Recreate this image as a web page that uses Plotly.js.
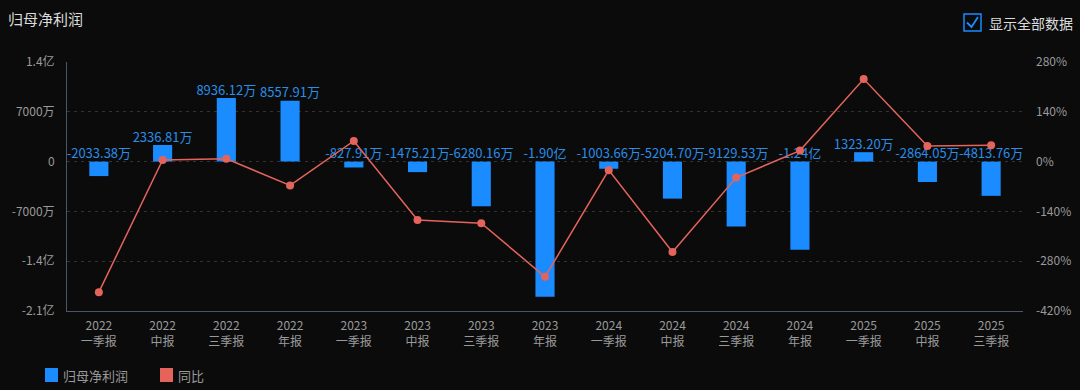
<!DOCTYPE html>
<html>
<head>
<meta charset="utf-8">
<script src="https://cdn.plot.ly/plotly-3.0.1.min.js"></script>
<style>
html,body{margin:0;padding:0;background:#0b0b0c;}
#chart{width:1080px;height:390px;}
</style>
</head>
<body>
<div id="chart"></div>
<script>
// Categories (period labels)
const years = ['2022','2022','2022','2022','2023','2023','2023','2023','2024','2024','2024','2024','2025','2025','2025'];
const periods = ['一季报','中报','三季报','年报','一季报','中报','三季报','年报','一季报','中报','三季报','年报','一季报','中报','三季报'];
// 归母净利润, in 万元
const profit = [-2033.38, 2336.81, 8936.12, 8557.91, -827.91, -1475.21, -6280.16, -19000, -1003.66, -5204.70, -9129.53, -12400, 1323.20, -2864.05, -4813.76];
// 同比, in %
const yoy = [-367, 4.5, 8, -67, 58, -164, -173, -324, -24, -254, -45, 31, 232, 44, 46];
// Axis ticks
const leftTickVals = [14000, 7000, 0, -7000, -14000, -21000];
const leftTickText = ['1.4亿', '7000万', '0', '-7000万', '-1.4亿', '-2.1亿'];
const rightTickVals = [280, 140, 0, -140, -280, -420];
const rightTickText = ['280%', '140%', '0%', '-140%', '-280%', '-420%'];

const cats = years.map((y, i) => y + '<br>' + periods[i]);
function fmt(v) {
  if (Math.abs(v) >= 10000) return (v / 10000).toFixed(2) + '亿';
  return v.toFixed(2) + '万';
}

const FONT = '"Noto Sans CJK SC", "Noto Sans", sans-serif';
const barColor = '#1a8cff';
const labelColor = '#2a8de6';
const lineColor = '#e4645c';

const traces = [
  {
    type: 'bar', x: cats, y: profit, marker: {color: barColor},
    yaxis: 'y', hoverinfo: 'skip', showlegend: false
  },
  {
    type: 'scatter', mode: 'text', x: cats, y: profit.map(v => Math.max(v, 0)),
    text: profit.map(fmt), textposition: 'top center',
    textfont: {color: labelColor, size: 13, family: FONT},
    yaxis: 'y', hoverinfo: 'skip', showlegend: false, cliponaxis: false
  },
  {
    type: 'scatter', mode: 'lines+markers', x: cats, y: yoy, yaxis: 'y2',
    line: {color: lineColor, width: 1.5},
    marker: {color: lineColor, size: 8},
    hoverinfo: 'skip', showlegend: false, cliponaxis: false
  }
];

const L = 67, R = 1023, T = 62, B = 311;
const W = R - L, H = B - T;
const px = x => (x - L) / W;
const py = y => (B - y) / H;

const layout = {
  width: 1080, height: 390,
  margin: {l: L, r: 1080 - R, t: T, b: 390 - B},
  paper_bgcolor: '#0b0b0c', plot_bgcolor: '#0b0b0c',
  font: {family: FONT, color: '#9a9a9a', size: 12},
  bargap: 0.7,
  showlegend: false,
  title: {text: '归母净利润', x: 8 / 1080, xanchor: 'left', y: 1 - 20 / 390, yanchor: 'middle',
          font: {size: 15, color: '#dcdcdc', family: FONT}},
  xaxis: {
    type: 'category', range: [-0.5, cats.length - 0.5], autorange: false,
    showgrid: false, zeroline: false,
    showline: true, linecolor: '#4a5568', linewidth: 1,
    ticks: '', ticklabelstandoff: 4, tickfont: {size: 12, color: '#9a9a9a'}, fixedrange: true
  },
  yaxis: {
    range: [-21000, 14000], tickvals: leftTickVals, ticktext: leftTickText,
    showgrid: true, gridcolor: '#333333', griddash: '3px,4px', gridwidth: 1,
    zeroline: false, showline: true, linecolor: '#4a5568', linewidth: 1,
    ticks: '', ticklabelstandoff: 9, tickfont: {size: 12, color: '#9a9a9a'}, fixedrange: true
  },
  yaxis2: {
    overlaying: 'y', side: 'right', range: [-420, 280], tickvals: rightTickVals, ticktext: rightTickText,
    showgrid: false, zeroline: false, showline: false,
    ticks: '', ticklabelstandoff: 12, tickfont: {size: 12, color: '#9a9a9a'}, fixedrange: true
  },
  shapes: [
    // checkbox
    {type: 'rect', xref: 'paper', yref: 'paper', x0: px(964), x1: px(981), y0: py(31), y1: py(14),
     line: {color: '#1a8cff', width: 1.5}, fillcolor: 'rgba(0,0,0,0)'},
    {type: 'path', xref: 'paper', yref: 'paper',
     path: `M ${px(967)} ${py(22.5)} L ${px(971.5)} ${py(27)} L ${px(978)} ${py(17)}`,
     line: {color: '#1a8cff', width: 1.8}},
    // legend swatches
    {type: 'rect', xref: 'paper', yref: 'paper', x0: px(45), x1: px(58), y0: py(382), y1: py(368),
     line: {width: 0}, fillcolor: barColor},
    {type: 'rect', xref: 'paper', yref: 'paper', x0: px(160), x1: px(173), y0: py(382), y1: py(368),
     line: {width: 0}, fillcolor: lineColor}
  ],
  annotations: [
    {xref: 'paper', yref: 'paper', x: px(987), y: py(22.5), xanchor: 'left', yanchor: 'middle',
     text: '显示全部数据', showarrow: false, font: {size: 14, color: '#dcdcdc', family: FONT}},
    {xref: 'paper', yref: 'paper', x: px(61), y: py(375), xanchor: 'left', yanchor: 'middle',
     text: '归母净利润', showarrow: false, font: {size: 13, color: '#9a9a9a', family: FONT}},
    {xref: 'paper', yref: 'paper', x: px(176), y: py(375), xanchor: 'left', yanchor: 'middle',
     text: '同比', showarrow: false, font: {size: 13, color: '#9a9a9a', family: FONT}}
  ]
};

Plotly.newPlot('chart', traces, layout, {displayModeBar: false, staticPlot: true});
</script>
</body>
</html>
